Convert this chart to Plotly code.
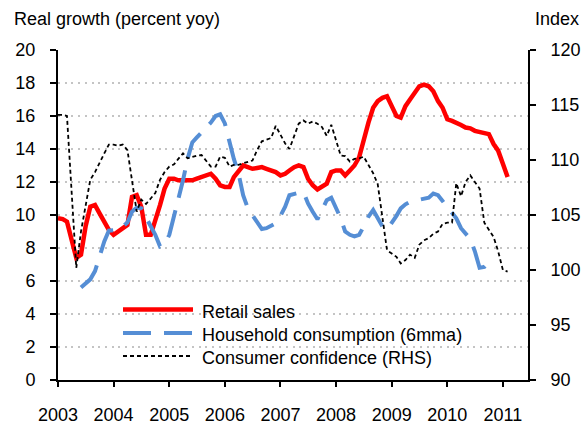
import pandas as pd
import plotly.graph_objects as go

# ---------------- data (monthly, Jan 2003 - Feb 2011) ----------------
months = pd.date_range("2003-01-01", periods=98, freq="MS")

retail_sales = [
    9.8, 9.75, 9.6, 8.5, 7.4, 7.6, 9.3, 10.5, 10.6, 10.1, 9.6, 9.1,
    8.8, 9.0, 9.15, 9.4, 11.1, 11.2, 10.5, 8.8, 8.8, 9.6, 10.6, 11.6,
    12.2, 12.2, 12.1, 12.1, 12.1, 12.1, 12.2, 12.3, 12.4, 12.5, 12.2, 11.8,
    11.7, 11.7, 12.3, 12.7, 13.0, 12.9, 12.8, 12.85, 12.9, 12.8, 12.7, 12.6,
    12.4, 12.5, 12.7, 12.9, 13.0, 12.9, 12.2, 11.8, 11.55, 11.75, 11.9, 12.6,
    12.7, 12.7, 12.4, 12.7, 13.0, 13.5, 14.6, 15.6, 16.5, 16.9, 17.1, 17.2,
    16.6, 16.0, 15.9, 16.6, 17.0, 17.4, 17.8, 17.9, 17.8, 17.5, 16.9, 16.5,
    15.8, 15.7, 15.6, 15.45, 15.3, 15.25, 15.1, 15.05, 14.95, 14.9, 14.3, 13.9,
    13.1, 12.3,
]

household_consumption = [None] * 5 + [
    5.6, 5.85, 6.1, 6.6, 7.5, 8.4, 9.05,
    9.1, 9.1, 9.3, 9.55, 10.2, 10.45, 10.4, 9.9, 9.4, 8.8, 8.1, 8.2,
    8.8, 9.9, 10.9, 12.1, 13.4, 14.4, 14.7, 15.0, 15.3, 15.6, 16.0, 16.1,
    15.55, 14.4, 13.4, 12.5, 11.2, 10.4, 10.0, 9.6, 9.15, 9.2, 9.35, 9.5,
    9.95, 10.5, 11.2, 11.3, 11.35, 11.4, 10.7, 10.2, 9.74, 10.3, 10.9, 11.05,
    10.4, 9.8, 9.0, 8.8, 8.7, 8.8, 9.3, 9.9, 10.3, 9.8, 9.3, 9.1,
    9.5, 9.95, 10.4, 10.65, 10.8, 10.85, 10.9, 10.95, 11.05, 11.3, 11.2, 10.85,
    10.5, 10.15, 9.8, 9.2, 8.85, 8.55, 7.8, 6.8, 6.85, 7.15, 7.27,
] + [None] * 3

consumer_confidence = [
    114.1, 114.1, 114.0, 107.3, 100.2, 103.5, 106.0, 108.2, 108.9, 109.8, 110.6, 111.4,
    111.4, 111.3, 111.4, 110.9, 108.0, 105.3, 106.4, 106.0, 106.5, 107.0, 108.2, 108.9,
    109.4, 109.6, 110.1, 110.6, 110.15, 110.3, 110.4, 110.45, 109.9, 109.4, 109.4, 110.3,
    110.2, 109.4, 109.55, 109.55, 109.7, 109.85, 109.95, 110.9, 111.7, 111.85, 112.0, 113.1,
    112.3, 111.5, 111.0, 112.2, 113.3, 113.6, 113.3, 113.5, 113.3, 113.0, 112.2, 113.2,
    111.8, 110.4, 110.36, 109.85, 110.1, 110.15, 110.3, 109.5, 108.8, 107.8, 104.5, 101.8,
    101.5, 101.2, 100.6, 100.9, 101.4, 101.1, 102.3, 102.7, 102.9, 103.3, 103.5, 104.2,
    104.3, 104.3, 107.9, 106.7, 108.0, 108.6, 108.0, 107.4, 104.3, 103.6, 103.0, 101.7,
    100.0, 99.85,
]

year_labels = ["2003", "2004", "2005", "2006", "2007", "2008", "2009", "2010", "2011"]
year_ticks = [f"{y}-01-01" for y in year_labels]
left_ticks = list(range(0, 21, 2))
right_ticks = list(range(90, 121, 5))

series_names = ["Retail sales", "Household consumption (6mma)", "Consumer confidence (RHS)"]

# ---------------- styling ----------------
FONT = "Liberation Sans, Arial, sans-serif"
RED = "#ff0000"
BLUE = "#558ed5"
BLACK = "#000000"

fig = go.Figure()
fig.add_trace(go.Scatter(x=months, y=retail_sales, mode="lines", name=series_names[0],
                         line=dict(color=RED, width=4.5), yaxis="y", showlegend=False))
fig.add_trace(go.Scatter(x=months, y=household_consumption, mode="lines", name=series_names[1],
                         line=dict(color=BLUE, width=4, dash="28px,13px"), yaxis="y",
                         showlegend=False))
fig.add_trace(go.Scatter(x=months, y=consumer_confidence, mode="lines", name=series_names[2],
                         line=dict(color=BLACK, width=1.8, dash="4px,3px"), yaxis="y2",
                         showlegend=False))

ML, MR, MT, MB = 58, 57, 50, 44
W, H = 585, 424
PW, PH = W - ML - MR, H - MT - MB


def px_x(x):
    return (x - ML) / PW


def px_y(y):
    return (H - MB - y) / PH


# manual legend (long line samples as in the original)
legend_rows = [
    (series_names[0], dict(color=RED, width=4.5), 309.5, 312),
    (series_names[1], dict(color=BLUE, width=4, dash="28px,13px"), 333, 335),
    (series_names[2], dict(color=BLACK, width=1.8, dash="4px,3px"), 356, 358),
]
shapes = []
annotations = []
for name, ln, ly, ty in legend_rows:
    shapes.append(dict(type="line", xref="paper", yref="paper",
                       x0=px_x(123), x1=px_x(193), y0=px_y(ly), y1=px_y(ly), line=ln))
    annotations.append(dict(text=name, xref="paper", yref="paper", x=px_x(200), y=px_y(ty),
                            xanchor="left", yanchor="middle", showarrow=False,
                            font=dict(size=18, color="black", family=FONT)))

annotations.append(dict(text="Real growth (percent yoy)", xref="paper", yref="paper",
                        x=px_x(12), y=px_y(19), xanchor="left", yanchor="middle",
                        showarrow=False, font=dict(size=18, color="black", family=FONT)))
annotations.append(dict(text="Index", xref="paper", yref="paper",
                        x=px_x(581), y=px_y(19), xanchor="right", yanchor="middle",
                        showarrow=False, font=dict(size=18, color="black", family=FONT)))

fig.update_layout(
    width=W, height=H,
    margin=dict(l=ML, r=MR, t=MT, b=MB, pad=0, autoexpand=False),
    paper_bgcolor="white", plot_bgcolor="white",
    font=dict(family=FONT, size=18, color="black"),
    showlegend=False,
    shapes=shapes,
    annotations=annotations,
    xaxis=dict(
        type="date", range=["2003-01-01", "2011-06-15"],
        tickvals=year_ticks, ticktext=year_labels,
        ticks="outside", ticklen=5, tickwidth=2, tickcolor="black",
        showline=True, linecolor="black", linewidth=2,
        showgrid=False, zeroline=False, automargin=False,
        tickfont=dict(size=18, family=FONT, color="black"),
        ticklabelstandoff=12,
    ),
    yaxis=dict(
        range=[0, 20], tickvals=left_ticks,
        ticks="outside", ticklen=6, tickwidth=2, tickcolor="black",
        showline=True, linecolor="black", linewidth=2,
        showgrid=True, gridcolor="#c4c4c4", gridwidth=2, griddash="2px,4.7px",
        zeroline=False, automargin=False,
        tickfont=dict(size=18, family=FONT, color="black"),
        ticklabelstandoff=11,
    ),
    yaxis2=dict(
        range=[90, 120], tickvals=right_ticks, overlaying="y", side="right",
        ticks="outside", ticklen=6, tickwidth=2, tickcolor="black",
        showline=True, linecolor="black", linewidth=2,
        showgrid=False, zeroline=False, automargin=False,
        tickfont=dict(size=18, family=FONT, color="black"),
        ticklabelstandoff=11,
    ),
)

fig.write_html(
    "out.html",
    config={"displayModeBar": False},
    post_script="document.body.style.margin='0px';document.body.style.overflow='hidden';",
)
